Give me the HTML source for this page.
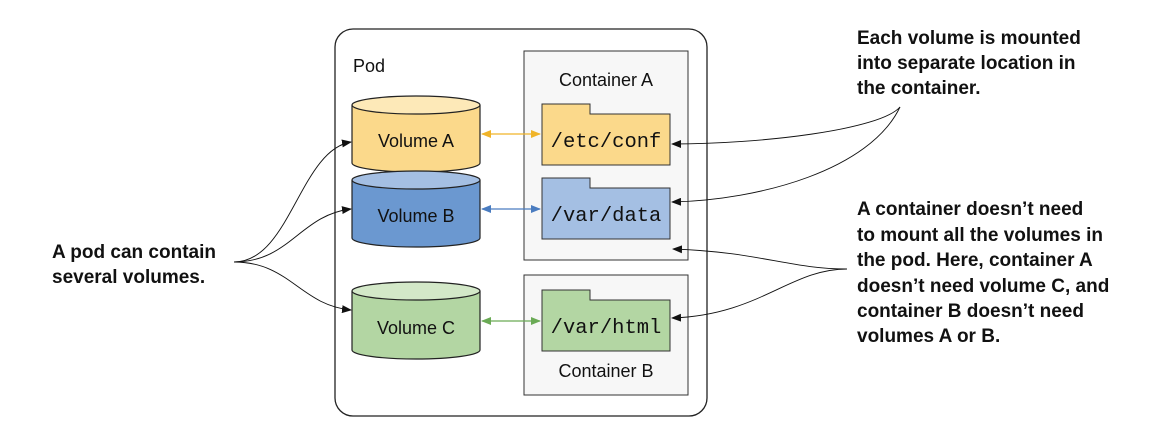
<!DOCTYPE html>
<html><head><style>
body{margin:0;background:#fff;}
svg{display:block}
.t{font-family:"Liberation Sans",sans-serif;font-weight:bold;font-size:19px;fill:#111}
.s{font-family:"Liberation Sans",sans-serif;font-size:18px;fill:#111}
.m{font-family:"Liberation Mono",monospace;font-size:20.5px;fill:#111}
</style></head><body>
<svg width="1162" height="429" viewBox="0 0 1162 429">
<defs>
<marker id="ak" markerWidth="10" markerHeight="8" refX="9" refY="4" orient="auto" markerUnits="userSpaceOnUse"><path d="M0,0 L10,4 L0,8z" fill="#111"/></marker>
<marker id="ay" markerWidth="10" markerHeight="8" refX="9" refY="4" orient="auto-start-reverse" markerUnits="userSpaceOnUse"><path d="M0,0 L10,4 L0,8z" fill="#f0b429"/></marker>
<marker id="ab" markerWidth="10" markerHeight="8" refX="9" refY="4" orient="auto-start-reverse" markerUnits="userSpaceOnUse"><path d="M0,0 L10,4 L0,8z" fill="#4a7cc0"/></marker>
<marker id="ag" markerWidth="10" markerHeight="8" refX="9" refY="4" orient="auto-start-reverse" markerUnits="userSpaceOnUse"><path d="M0,0 L10,4 L0,8z" fill="#6aaa55"/></marker>
</defs>
<rect x="335" y="29" width="372" height="387" rx="18" fill="#fff" stroke="#222" stroke-width="1.3"/>
<text x="353" y="72" class="s">Pod</text>
<rect x="524" y="51" width="164" height="209" fill="#f7f7f7" stroke="#333"/>
<text x="606" y="86" class="s" text-anchor="middle">Container A</text>
<rect x="524" y="275" width="164" height="120" fill="#f7f7f7" stroke="#333"/>
<text x="606" y="377" class="s" text-anchor="middle">Container B</text>
<path d="M542,104 H590 V114 H670 V165 H542Z" fill="#fbd98b" stroke="#333"/>
<text x="606" y="147" class="m" text-anchor="middle">/etc/conf</text>
<path d="M542,178 H590 V188 H670 V239 H542Z" fill="#a4bfe3" stroke="#333"/>
<text x="606" y="221" class="m" text-anchor="middle">/var/data</text>
<path d="M542,290 H590 V300 H670 V351 H542Z" fill="#b3d6a3" stroke="#333"/>
<text x="606" y="333" class="m" text-anchor="middle">/var/html</text>
<g stroke="#222" stroke-width="1.2">
<path d="M352,105 V163 A64,9 0 0 0 480,163 V105" fill="#fbd98b"/>
<ellipse cx="416" cy="105" rx="64" ry="9" fill="#fde9b8"/>
<path d="M352,180 V238 A64,9 0 0 0 480,238 V180" fill="#6b98d0"/>
<ellipse cx="416" cy="180" rx="64" ry="9" fill="#a4bfe3"/>
<path d="M352,291 V350 A64,9 0 0 0 480,350 V291" fill="#b3d6a3"/>
<ellipse cx="416" cy="291" rx="64" ry="9" fill="#d3e8c8"/>
</g>
<text x="416" y="147" class="s" text-anchor="middle">Volume A</text>
<text x="416" y="222" class="s" text-anchor="middle">Volume B</text>
<text x="416" y="334" class="s" text-anchor="middle">Volume C</text>
<line x1="482" y1="134" x2="540" y2="134" stroke="#f0b429" stroke-width="1.3" marker-start="url(#ay)" marker-end="url(#ay)"/>
<line x1="482" y1="209" x2="540" y2="209" stroke="#4a7cc0" stroke-width="1.3" marker-start="url(#ab)" marker-end="url(#ab)"/>
<line x1="482" y1="321" x2="540" y2="321" stroke="#6aaa55" stroke-width="1.3" marker-start="url(#ag)" marker-end="url(#ag)"/>
<g fill="none" stroke="#111" stroke-width="0.9">
<path d="M234,262 C290,262 300,150 351,142" marker-end="url(#ak)"/>
<path d="M234,262 C290,262 300,215 351,209" marker-end="url(#ak)"/>
<path d="M234,262 C290,262 300,305 351,310" marker-end="url(#ak)"/>
<path d="M900,107 C880,130 760,144 672,144" marker-end="url(#ak)"/>
<path d="M900,107 C870,170 760,200 672,202" marker-end="url(#ak)"/>
<path d="M847,269 C790,269 760,252 673,249" marker-end="url(#ak)"/>
<path d="M847,269 C790,269 760,315 672,318" marker-end="url(#ak)"/>
</g>
<text x="52" y="258" class="t">A pod can contain</text>
<text x="52" y="283" class="t">several volumes.</text>
<text class="t"><tspan x="857" y="44">Each volume is mounted</tspan><tspan x="857" y="69">into separate location in</tspan><tspan x="857" y="94">the container.</tspan></text>
<text class="t"><tspan x="857" y="215">A container doesn’t need</tspan><tspan x="857" y="241">to mount all the volumes in</tspan><tspan x="857" y="266">the pod. Here, container A</tspan><tspan x="857" y="292">doesn’t need volume C, and</tspan><tspan x="857" y="317">container B doesn’t need</tspan><tspan x="857" y="342">volumes A or B.</tspan></text>
</svg>
</body></html>
